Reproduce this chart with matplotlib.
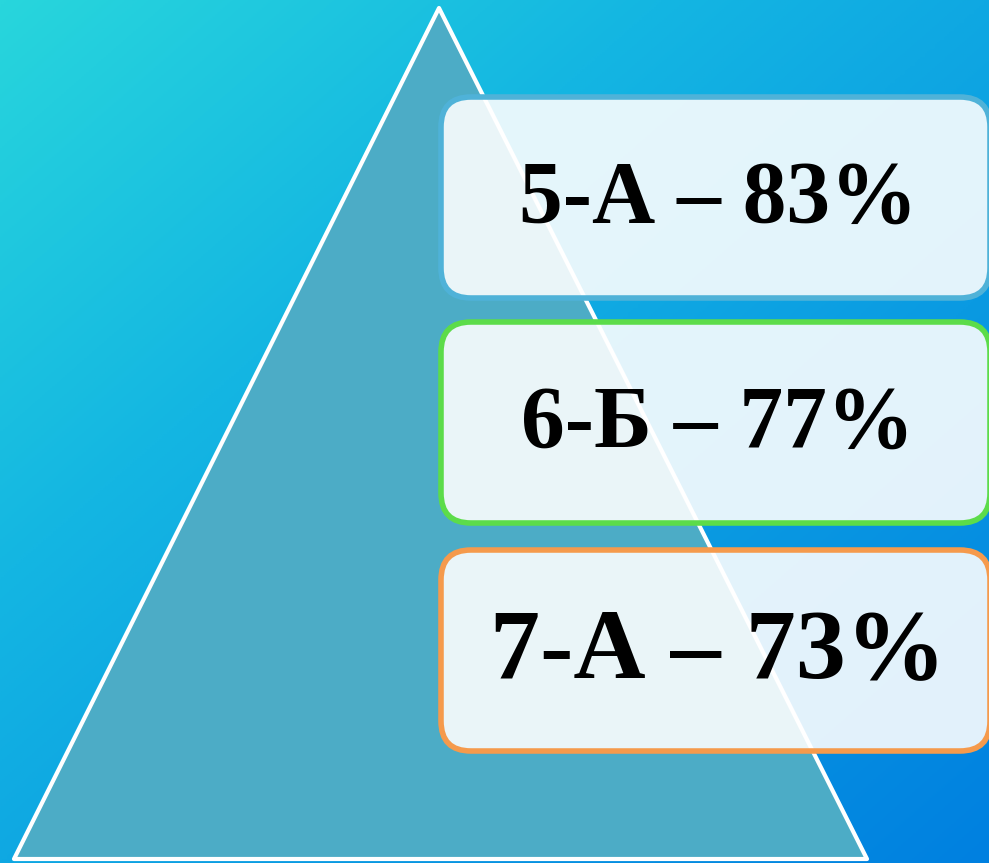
import matplotlib.pyplot as plt
import numpy as np
from matplotlib.patches import Polygon, FancyBboxPatch
from matplotlib.colors import LinearSegmentedColormap

# Class results
classes = ['5-А', '6-Б', '7-А']
percents = [83, 77, 73]
edge_colors = ['#4fb2d8', '#5cdc4a', '#f59a4c']
font_sizes = [63, 63, 72]

W, H = 989, 863

fig = plt.figure(figsize=(W / 100, H / 100), dpi=100)
ax = fig.add_axes([0, 0, 1, 1])
ax.set_xlim(0, W)
ax.set_ylim(H, 0)
ax.axis('off')

# diagonal background gradient
cmap = LinearSegmentedColormap.from_list('bg', ['#28d6dc', '#14b6e2', '#0a9ae2', '#0080e0'])
xx, yy = np.meshgrid(np.linspace(0, 1, 400), np.linspace(0, 1, 400))
grad = (xx + yy) / 2
ax.imshow(grad, cmap=cmap, extent=[0, W, H, 0], aspect='auto', zorder=0)

# pyramid
tri = Polygon([[439, 8], [14, 859], [867, 859]], closed=True,
              facecolor='#4cacc6', edgecolor='white', linewidth=3, zorder=1,
              joinstyle='round')
ax.add_patch(tri)

# boxes
box_tops = [97, 322, 550]
box_h = 201
for i, (cls, pct) in enumerate(zip(classes, percents)):
    top = box_tops[i]
    box = FancyBboxPatch((441, top), 549, box_h,
                         boxstyle='round,pad=0,rounding_size=30',
                         facecolor=(1, 1, 1, 0.89), edgecolor=edge_colors[i],
                         linewidth=4, zorder=2)
    ax.add_patch(box)
    ax.text(718, top + box_h / 2 + 3, f'{cls} – {pct}%', ha='center', va='center',
            fontsize=font_sizes[i], fontweight='bold', family='Liberation Serif',
            color='black', zorder=3)

fig.savefig('out.png', dpi=100)
